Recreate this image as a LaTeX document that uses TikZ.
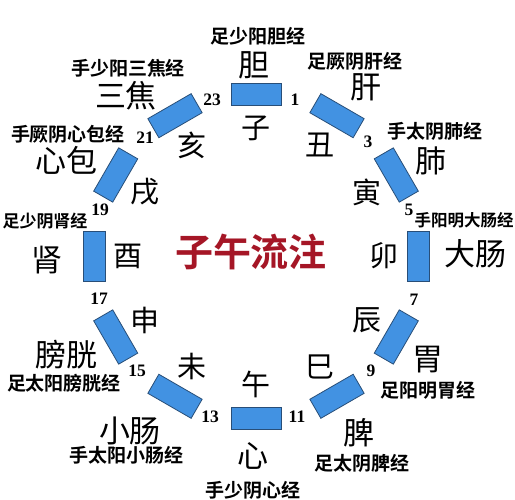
\documentclass[tikz,border=0pt]{standalone}
\usepackage{fontspec}
\setmainfont{Liberation Serif}
\newfontfamily\cjk[BoldFont={Noto Sans CJK SC Bold}]{Noto Sans CJK SC}
\definecolor{segblue}{RGB}{66,146,226}
\definecolor{segedge}{RGB}{40,78,120}
\definecolor{titlered}{RGB}{165,22,38}
\tikzset{
  seg/.style={draw=segedge, line width=0.8pt, fill=segblue, minimum width=50pt, minimum height=22pt, inner sep=0pt},
  branch/.style={font=\cjk\fontsize{29}{29}\selectfont, inner sep=0pt},
  organ/.style={font=\cjk\fontsize{31}{31}\selectfont, inner sep=0pt},
  meri/.style={font=\cjk\bfseries\fontsize{19}{19}\selectfont, inner sep=0pt},
  hour/.style={font=\bfseries\fontsize{17.5}{17.5}\selectfont, inner sep=0pt},
}
\begin{document}
\begin{tikzpicture}[x=1pt,y=1pt]
\useasboundingbox (0,0) rectangle (515,500);
\fill[white] (0,0) rectangle (515,500);
\coordinate (O) at (256,244);
\foreach \b [count=\i] in {子,丑,寅,卯,辰,巳,午,未,申,酉,戌,亥}{
  \pgfmathsetmacro{\a}{90-30*(\i-1)}
  \node[seg, rotate=\a-90] (r\i) at ([shift={(\a:162)}]O) {};
  \node[branch] (b\i) at ([shift={(\a:128)}]O) {\b};
}
% title
\node[font=\cjk\bfseries\fontsize{38}{38}\selectfont, text=titlered, inner sep=0pt] (title) at (251,248) {子午流注};
% hours
\node[hour] (h1) at (295,400) {1};
\node[hour] (h3) at (368,358) {3};
\node[hour] (h5) at (409,290) {5};
\node[hour] (h7) at (414,200) {7};
\node[hour] (h9) at (371,129) {9};
\node[hour] (h11) at (297,83) {11};
\node[hour] (h13) at (210,83) {13};
\node[hour] (h15) at (137,129) {15};
\node[hour] (h17) at (99,201) {17};
\node[hour] (h19) at (100,290) {19};
\node[hour] (h21) at (145,362) {21};
\node[hour] (h23) at (212,400) {23};
% organs
\node[organ] (o1) at (254,435) {胆};
\node[organ] (o2) at (366,413) {肝};
\node[organ] (o3) at (431,339) {肺};
\node[organ] (o4) at (475,246) {大肠};
\node[organ] (o5) at (428,140) {胃};
\node[organ] (o6) at (359,67) {脾};
\node[organ] (o7) at (253,44) {心};
\node[organ] (o8) at (130,69) {小肠};
\node[organ] (o9) at (66,145) {膀胱};
\node[organ] (o10) at (47,240) {肾};
\node[organ] (o11) at (66,340) {心包};
\node[organ] (o12) at (126,404) {三焦};
% meridians
\node[meri] (m1) at (258,464) {足少阳胆经};
\node[meri] (m2) at (355,439) {足厥阴肝经};
\node[meri] (m3) at (435,369) {手太阴肺经};
\node[meri, font=\cjk\bfseries\fontsize{16.5}{16.5}\selectfont] (m4) at (464,280) {手阳明大肠经};
\node[meri] (m5) at (428,110) {足阳明胃经};
\node[meri] (m6) at (362,37) {足太阴脾经};
\node[meri] (m7) at (253,10) {手少阴心经};
\node[meri] (m8) at (127,45) {手太阳小肠经};
\node[meri] (m9) at (64,117) {足太阳膀胱经};
\node[meri, font=\cjk\bfseries\fontsize{17}{17}\selectfont] (m10) at (45,279) {足少阴肾经};
\node[meri] (m11) at (68,366) {手厥阴心包经};
\node[meri] (m12) at (128,432) {手少阳三焦经};
\end{tikzpicture}
\end{document}
